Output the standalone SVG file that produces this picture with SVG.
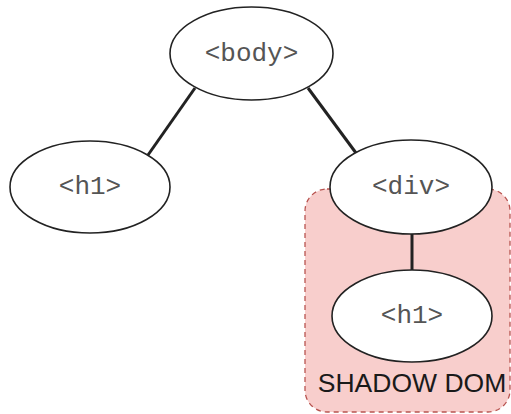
<svg xmlns="http://www.w3.org/2000/svg" width="511" height="414" viewBox="0 0 511 414">
<style>
.n{fill:#fff;stroke:#222;stroke-width:1.6}
.t{font-family:"Liberation Mono","Courier New",monospace;font-size:26px;fill:#555;text-anchor:middle;dominant-baseline:central}
.e{stroke:#222;stroke-width:3;fill:none}
</style>
<g id="shadow">
<rect x="305" y="189" width="205" height="223" rx="22" ry="22" fill="#f8cecc" stroke="#b85450" stroke-width="1.3" stroke-dasharray="5,4"/>
<text x="412" y="392" font-family="Liberation Sans,Arial,sans-serif" font-size="26.5" fill="#1a1a1a" text-anchor="middle">SHADOW DOM</text>
</g>
<g id="edges">
<line class="e" x1="195" y1="88" x2="148" y2="155"/>
<line class="e" x1="308" y1="88" x2="356" y2="153"/>
<line class="e" x1="412" y1="234" x2="412" y2="270"/>
</g>
<g id="body"><ellipse class="n" cx="251.5" cy="53.5" rx="81.5" ry="46.5"/><text class="t" x="251.5" y="54">&lt;body&gt;</text></g>
<g id="h1a"><ellipse class="n" cx="90" cy="187" rx="80" ry="46"/><text class="t" x="90" y="187">&lt;h1&gt;</text></g>
<g id="div"><ellipse class="n" cx="411" cy="187" rx="81" ry="47"/><text class="t" x="411" y="187">&lt;div&gt;</text></g>
<g id="h1b"><ellipse class="n" cx="412" cy="316" rx="80" ry="46"/><text class="t" x="412" y="316">&lt;h1&gt;</text></g>
</svg>
